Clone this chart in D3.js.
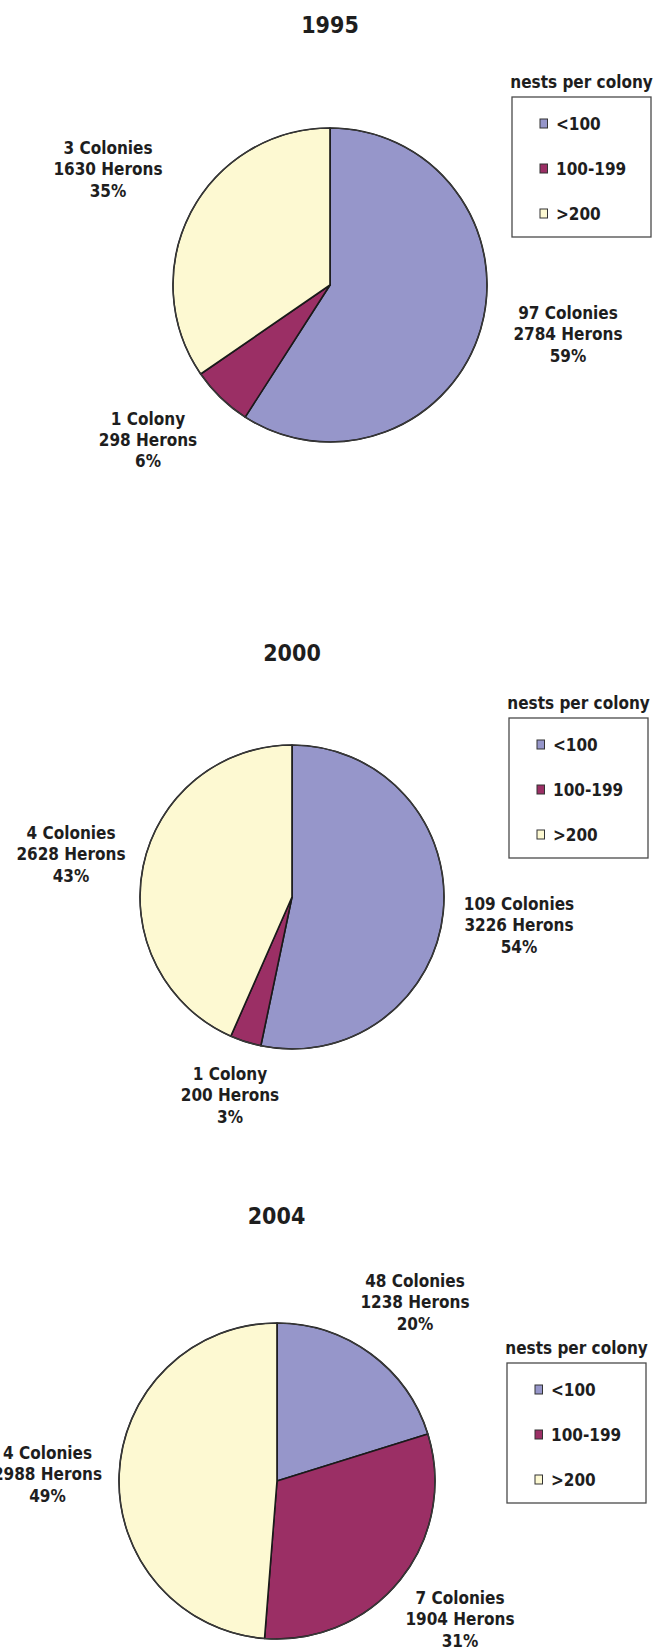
<!DOCTYPE html>
<html>
<head>
<meta charset="utf-8">
<script src="https://cdn.jsdelivr.net/npm/d3@7"></script>
<style>
  html, body { margin: 0; padding: 0; background: #ffffff; }
  svg text { font-family: "DejaVu Sans Condensed", "DejaVu Sans", sans-serif; font-stretch: condensed; font-weight: bold; fill: #1e1e1e; }
</style>
</head>
<body>
<svg id="chart" width="661" height="1647"></svg>
<script>
// ---- data ----
const years = ["1995", "2000", "2004"];
const categories = ["<100", "100-199", ">200"];
const colonies1995 = [97, 1, 3];
const herons1995 = [2784, 298, 1630];
const percent1995 = ["59%", "6%", "35%"];
const colonies2000 = [109, 1, 4];
const herons2000 = [3226, 200, 2628];
const percent2000 = ["54%", "3%", "43%"];
const colonies2004 = [48, 7, 4];
const herons2004 = [1238, 1904, 2988];
const percent2004 = ["20%", "31%", "49%"];
const legendTitle = "nests per colony";

// ---- layout ----
const colors = ["#9696ca", "#9b2f65", "#fdf9d2"];
const panels = [
  { year: years[0], colonies: colonies1995, herons: herons1995, pct: percent1995,
    cx: 330, cy: 285, r: 157, titleX: 330, titleY: 33,
    legend: { x: 512, y: 97 },
    labels: [[568, 319], [148, 424.5], [108, 154]] },
  { year: years[1], colonies: colonies2000, herons: herons2000, pct: percent2000,
    cx: 292, cy: 897, r: 152, titleX: 292, titleY: 661,
    legend: { x: 509, y: 718 },
    labels: [[519, 910], [230, 1080], [71, 839]] },
  { year: years[2], colonies: colonies2004, herons: herons2004, pct: percent2004,
    cx: 277, cy: 1481, r: 158, titleX: 276.5, titleY: 1224,
    legend: { x: 507, y: 1363 },
    labels: [[415, 1287], [460, 1604], [47.5, 1459]] }
];

const svg = d3.select("#chart");
const color = d3.scaleOrdinal().domain(categories).range(colors);
const pie = d3.pie().sort(null).value(d => d.herons);
const lineH = 21.3;

panels.forEach(p => {
  const g = svg.append("g");
  g.append("text")
    .attr("x", p.titleX).attr("y", p.titleY)
    .attr("text-anchor", "middle")
    .style("font-size", "23px")
    .text(p.year);

  const rows = categories.map((c, i) => ({ cat: c, herons: p.herons[i], colonies: p.colonies[i], pct: p.pct[i] }));
  const arcs = pie(rows);
  const arc = d3.arc().innerRadius(0).outerRadius(p.r);

  const pg = g.append("g").attr("transform", `translate(${p.cx},${p.cy})`);
  pg.selectAll("path.slice").data(arcs).join("path")
    .attr("class", "slice")
    .attr("d", arc)
    .attr("fill", d => color(d.data.cat))
    .attr("stroke", "#1a1a1a")
    .attr("stroke-width", 1.6)
    .attr("stroke-linejoin", "round");
  pg.append("circle").attr("r", p.r).attr("fill", "none")
    .attr("stroke", "#3a3a3a").attr("stroke-width", 1.2);

  // slice labels
  arcs.forEach((d, i) => {
    const [lx, ly] = p.labels[i];
    const lines = [
      `${d.data.colonies} ${d.data.colonies === 1 ? "Colony" : "Colonies"}`,
      `${d.data.herons} Herons`,
      d.data.pct
    ];
    const t = g.append("text").attr("text-anchor", "middle").style("font-size", "17px");
    lines.forEach((s, k) => {
      t.append("tspan").attr("x", lx).attr("y", ly + k * lineH).text(s);
    });
  });

  // legend
  const L = g.append("g").attr("transform", `translate(${p.legend.x},${p.legend.y})`);
  L.append("text").attr("x", 69.5).attr("y", -9).attr("text-anchor", "middle")
    .style("font-size", "17px").text(legendTitle);
  L.append("rect").attr("x", 0).attr("y", 0).attr("width", 139).attr("height", 140)
    .attr("fill", "#ffffff").attr("stroke", "#4a4a4a").attr("stroke-width", 1.3);
  const ys = d3.scalePoint().domain(categories).range([26.5, 116.5]);
  categories.forEach(c => {
    L.append("rect").attr("x", 28).attr("y", ys(c) - 4.5).attr("width", 7.5).attr("height", 9)
      .attr("fill", color(c)).attr("stroke", "#333").attr("stroke-width", 1);
    L.append("text").attr("x", 44).attr("y", ys(c) + 6).style("font-size", "17px").text(c);
  });
});
</script>
</body>
</html>
